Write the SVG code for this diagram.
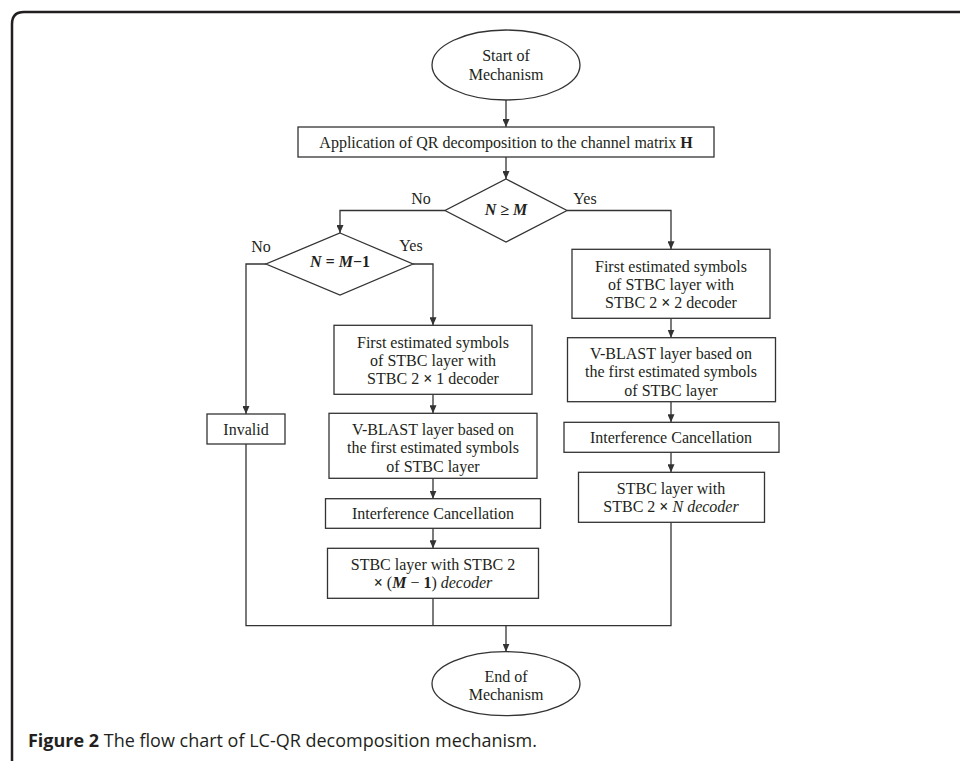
<svg xmlns="http://www.w3.org/2000/svg" width="960" height="761" viewBox="0 0 960 761">
<style>
.frame{fill:none;stroke:#231f20;stroke-width:2.5}
.shape{fill:#fff;stroke:#333;stroke-width:1.3}
.conn{fill:none;stroke:#333;stroke-width:1.3}
.t{font-family:"Liberation Serif","Times New Roman",serif;font-size:16px;fill:#231f20;text-anchor:middle}
.lbl{font-family:"Liberation Serif","Times New Roman",serif;font-size:16px;fill:#231f20}
.bi{font-weight:bold;font-style:italic}
.b{font-weight:bold}
.i{font-style:italic}
.cap{font-family:"Open Sans","Noto Sans",sans-serif;font-size:18px;fill:#231f20}
</style>
<defs>
<marker id="arr" markerWidth="8" markerHeight="7" refX="8" refY="3.5" orient="auto" markerUnits="userSpaceOnUse">
<path d="M0,0 L8,3.5 L0,7 z" fill="#333"/>
</marker>
</defs>
<rect width="960" height="761" fill="#fff"/>
<path class="frame" d="M960,12 H24 Q12,12 12,24 V761"/>

<g id="connectors">
<path class="conn" d="M506,100 V127" marker-end="url(#arr)"/>
<path class="conn" d="M506,157 V179" marker-end="url(#arr)"/>
<path class="conn" d="M445,210.5 H340 V233" marker-end="url(#arr)"/>
<path class="conn" d="M567,210.5 H671 V249.3" marker-end="url(#arr)"/>
<path class="conn" d="M266,264 H246 V414" marker-end="url(#arr)"/>
<path class="conn" d="M413,264 H433 V325.3" marker-end="url(#arr)"/>
<path class="conn" d="M433,394.3 V413.3" marker-end="url(#arr)"/>
<path class="conn" d="M433,478.3 V498.7" marker-end="url(#arr)"/>
<path class="conn" d="M433,528.3 V548.3" marker-end="url(#arr)"/>
<path class="conn" d="M433,598.3 V625.7"/>
<path class="conn" d="M246,444 V625.7 H671 V522.3"/>
<path class="conn" d="M671,318.3 V337.7" marker-end="url(#arr)"/>
<path class="conn" d="M671,401.7 V422.3" marker-end="url(#arr)"/>
<path class="conn" d="M671,452.3 V472.3" marker-end="url(#arr)"/>
<path class="conn" d="M506,625.7 V651.7" marker-end="url(#arr)"/>
<text class="lbl" x="421" y="204" text-anchor="middle">No</text>
<text class="lbl" x="585" y="204" text-anchor="middle">Yes</text>
<text class="lbl" x="261" y="251.5" text-anchor="middle">No</text>
<text class="lbl" x="411" y="251" text-anchor="middle">Yes</text>
</g>

<g id="start">
<ellipse class="shape" cx="506" cy="65" rx="74" ry="35"/>
<text class="t" x="506" y="61">Start of</text>
<text class="t" x="506" y="80">Mechanism</text>
</g>

<g id="qr">
<rect class="shape" x="298" y="127" width="416" height="30"/>
<text class="t" x="506" y="147.7">Application of QR decomposition to the channel matrix <tspan class="b">H</tspan></text>
</g>

<g id="dec1">
<polygon class="shape" points="506,179 567,210.5 506,242 445,210.5"/>
<text class="t bi" x="506" y="214.5">N ≥ M</text>
</g>

<g id="dec2">
<polygon class="shape" points="340,233 413,264 340,295 266,264"/>
<text class="t bi" x="340" y="267">N = M<tspan font-style="normal">−1</tspan></text>
</g>

<g id="invalid">
<rect class="shape" x="207" y="414" width="78" height="30"/>
<text class="t" x="246" y="434.7">Invalid</text>
</g>

<g id="left-first">
<rect class="shape" x="334" y="325.3" width="198" height="69"/>
<text class="t" x="433" y="347.5">First estimated symbols</text>
<text class="t" x="433" y="365.8">of STBC layer with</text>
<text class="t" x="433" y="384.1">STBC 2 <tspan class="b">×</tspan> 1 decoder</text>
</g>

<g id="left-vblast">
<rect class="shape" x="329" y="413.3" width="208" height="65"/>
<text class="t" x="433" y="434.9">V-BLAST layer based on</text>
<text class="t" x="433" y="453.2">the first estimated symbols</text>
<text class="t" x="433" y="471.5">of STBC layer</text>
</g>

<g id="left-ic">
<rect class="shape" x="325.5" y="498.7" width="215" height="29.6"/>
<text class="t" x="433" y="519.2">Interference Cancellation</text>
</g>

<g id="left-stbc">
<rect class="shape" x="327.5" y="548.3" width="211" height="50"/>
<text class="t" x="433" y="569.8">STBC layer with STBC 2</text>
<text class="t" x="433" y="588.1"><tspan class="b">×</tspan> (<tspan class="bi">M</tspan> − <tspan class="b">1</tspan>) <tspan class="i">decoder</tspan></text>
</g>

<g id="right-first">
<rect class="shape" x="572" y="249.3" width="198" height="69"/>
<text class="t" x="671" y="271.5">First estimated symbols</text>
<text class="t" x="671" y="289.8">of STBC layer with</text>
<text class="t" x="671" y="308.1">STBC 2 <tspan class="b">×</tspan> 2 decoder</text>
</g>

<g id="right-vblast">
<rect class="shape" x="567.5" y="337.7" width="208" height="64"/>
<text class="t" x="671" y="358.9">V-BLAST layer based on</text>
<text class="t" x="671" y="377.2">the first estimated symbols</text>
<text class="t" x="671" y="395.5">of STBC layer</text>
</g>

<g id="right-ic">
<rect class="shape" x="564" y="422.3" width="215" height="30"/>
<text class="t" x="671" y="443">Interference Cancellation</text>
</g>

<g id="right-stbc">
<rect class="shape" x="578.5" y="472.3" width="186" height="50"/>
<text class="t" x="671" y="493.7">STBC layer with</text>
<text class="t" x="671" y="512">STBC 2 <tspan class="b">×</tspan> <tspan class="i">N decoder</tspan></text>
</g>

<g id="end">
<ellipse class="shape" cx="506" cy="683.7" rx="74" ry="32"/>
<text class="t" x="506" y="681.5">End of</text>
<text class="t" x="506" y="699.8">Mechanism</text>
</g>

<text class="cap" x="28" y="747" textLength="509" lengthAdjust="spacingAndGlyphs"><tspan font-weight="bold">Figure 2</tspan> The flow chart of LC-QR decomposition mechanism.</text>
</svg>
